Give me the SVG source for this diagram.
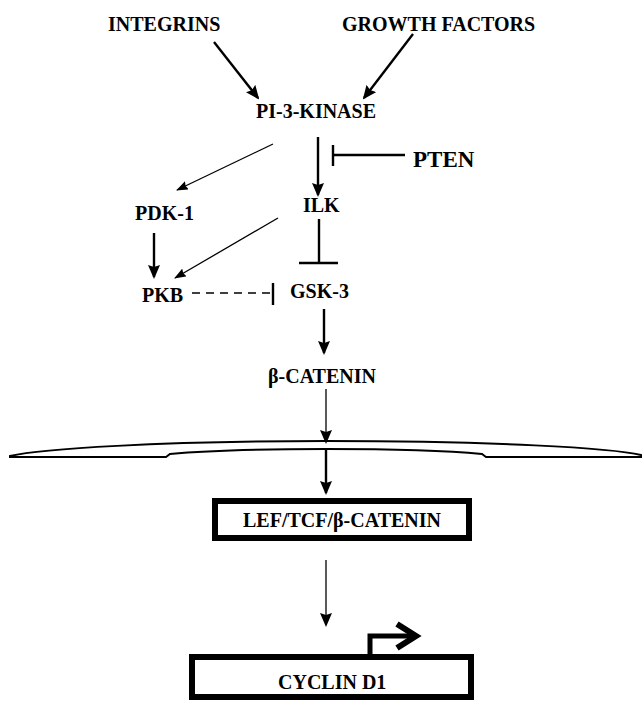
<svg xmlns="http://www.w3.org/2000/svg" width="642" height="701" viewBox="0 0 642 701">
<defs>
<style>
text{font-family:"Liberation Serif","Times New Roman",serif;font-weight:bold;font-size:20px;fill:#000}
.thick{stroke:#000;stroke-width:2.4;fill:none}
.thin{stroke:#000;stroke-width:1.3;fill:none}
.inh{stroke:#000;stroke-width:2.4;fill:none}
.box{fill:#fff;stroke:#000;stroke-width:6}
</style>
<marker id="ah" markerUnits="userSpaceOnUse" viewBox="0 0 14 12" markerWidth="14" markerHeight="12" refX="12" refY="6" orient="auto">
<path d="M0,0 L14,6 L0,12 L2,6 Z" fill="#000"/>
</marker>
<marker id="ahs" markerUnits="userSpaceOnUse" viewBox="0 0 12 9" markerWidth="12" markerHeight="9" refX="11" refY="4.5" orient="auto">
<path d="M0,0 L12,4.5 L0,9 L1.5,4.5 Z" fill="#000"/>
</marker>
</defs>
<rect width="642" height="701" fill="#fff"/>

<g id="membrane">
<path d="M10,456 C40,449 160,441 326,441 C492,441 612,448 641,455 L641,457 L486,457 L482,454 C440,450 380,449 326,449 C272,449 212,450 170,454 L166,457 L10,457 Z" fill="#fff" stroke="#000" stroke-width="2"/>
</g>

<g id="connectors">
<line class="thick" x1="214" y1="42" x2="258" y2="98" marker-end="url(#ah)"/>
<line class="thick" x1="413" y1="34" x2="364" y2="98" marker-end="url(#ah)"/>
<line class="thick" x1="318" y1="137" x2="318" y2="195" marker-end="url(#ah)"/>
<line class="inh" x1="405" y1="155" x2="333" y2="155"/>
<line class="inh" x1="333" y1="145" x2="333" y2="166"/>
<line class="thin" x1="273" y1="144" x2="177" y2="190" marker-end="url(#ahs)"/>
<line class="thick" x1="154" y1="233" x2="154" y2="277" marker-end="url(#ah)"/>
<line class="thin" x1="278" y1="218" x2="175" y2="278" marker-end="url(#ahs)"/>
<line class="inh" x1="319" y1="219" x2="319" y2="263"/>
<line class="inh" x1="299" y1="263" x2="338" y2="263"/>
<line stroke="#000" stroke-width="1.5" stroke-dasharray="8,6" x1="192" y1="293" x2="271" y2="293"/>
<line class="inh" x1="273" y1="283" x2="273" y2="305"/>
<line class="thick" x1="324" y1="309" x2="324" y2="353" marker-end="url(#ah)"/>
<line class="thin" stroke-width="1.6" x1="326" y1="389" x2="326" y2="442" marker-end="url(#ah)"/>
<line class="thick" x1="326" y1="449" x2="326" y2="493" marker-end="url(#ah)"/>
<line class="thin" stroke-width="1.6" x1="326" y1="560" x2="326" y2="625" marker-end="url(#ah)"/>
<path d="M370,655 V636 H413" fill="none" stroke="#000" stroke-width="5"/>
<path d="M397,624 L416,636 L397,648" fill="none" stroke="#000" stroke-width="6"/>
</g>

<g id="integrins"><text x="108" y="31">INTEGRINS</text></g>
<g id="growth-factors"><text x="342" y="31">GROWTH FACTORS</text></g>
<g id="pi3k"><text x="256" y="118">PI-3-KINASE</text></g>
<g id="pten"><text x="413" y="167" style="font-size:23px">PTEN</text></g>
<g id="pdk1"><text x="135" y="220">PDK-1</text></g>
<g id="ilk"><text x="303" y="212">ILK</text></g>
<g id="pkb"><text x="142" y="302">PKB</text></g>
<g id="gsk3"><text x="290" y="298">GSK-3</text></g>
<g id="beta-catenin"><text x="268" y="383">β-CATENIN</text></g>
<g id="lef-tcf">
<rect class="box" x="215" y="501" width="254" height="37"/>
<text x="342" y="527" text-anchor="middle">LEF/TCF/β-CATENIN</text>
</g>
<g id="cyclin-d1">
<rect class="box" x="192" y="657" width="279" height="40"/>
<text x="278" y="689">CYCLIN D1</text>
</g>
</svg>
